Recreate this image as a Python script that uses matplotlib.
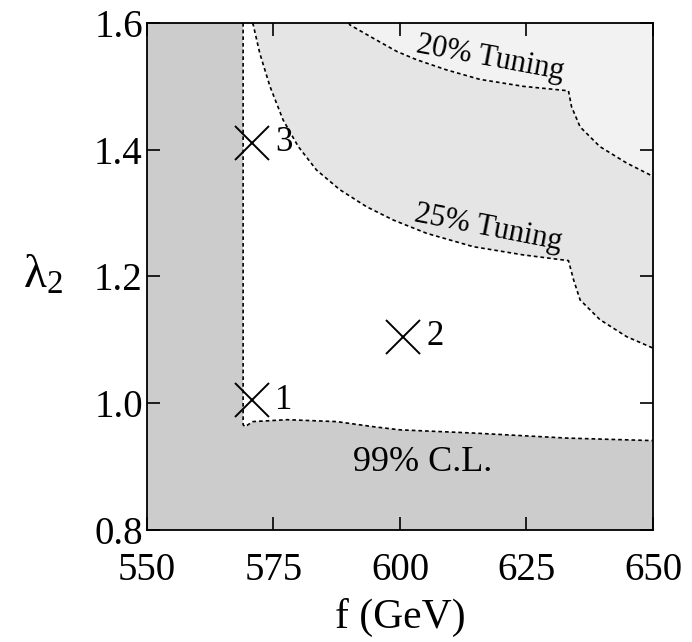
import numpy as np
import matplotlib
matplotlib.use("Agg")
import matplotlib.pyplot as plt

# Limites del grafico
f_min, f_max = 550, 650
l_min, l_max = 0.8, 1.6

# Frontera del 99% C.L. (linea vertical + curva inferior)
cl_f = [569.0, 569.0, 569.4, 570.9, 577.7, 587.5, 594.7, 600.0, 614.4, 633.0, 650.0]
cl_l = [1.600, 0.966, 0.963, 0.971, 0.974, 0.971, 0.963, 0.958, 0.953, 0.945, 0.941]

# Curva de 25% de ajuste fino
t25_f = [570.85, 571.0, 572.3, 574.3, 576.9, 579.9, 583.5, 588.1, 593.4, 598.7,
         605.3, 614.5, 624.4, 633.3, 634.3, 635.6, 639.5, 644.8, 650.0]
t25_l = [1.600, 1.597, 1.552, 1.500, 1.447, 1.405, 1.368, 1.337, 1.310, 1.289,
         1.268, 1.247, 1.234, 1.225, 1.195, 1.163, 1.132, 1.105, 1.087]

# Curva de 20% de ajuste fino
t20_f = [589.9, 590.1, 594.7, 599.4, 603.3, 609.2, 615.8, 624.4, 633.3, 633.9,
         635.6, 639.5, 644.8, 650.0]
t20_l = [1.600, 1.597, 1.576, 1.555, 1.542, 1.526, 1.511, 1.500, 1.493, 1.468,
         1.436, 1.405, 1.379, 1.358]

# Puntos de referencia
pt_f = [570.7, 600.6, 570.7]
pt_l = [1.005, 1.105, 1.411]
pt_names = ["1", "2", "3"]

plt.rcParams['font.family'] = ['Liberation Serif', 'DejaVu Serif']
plt.rcParams['mathtext.fontset'] = 'custom'
plt.rcParams['mathtext.rm'] = 'Liberation Serif'

fig = plt.figure(figsize=(6.92, 6.42), dpi=100)
ax = fig.add_axes([0.2124, 0.1745, 0.7312, 0.7897])

dash = (0, (2.2, 1.8))

# Regiones sombreadas (debajo de las marcas de los ejes)
ax.fill_between(t25_f, t25_l, l_max, color='#e5e5e5', lw=0, zorder=0.5)
ax.fill_between(t20_f, t20_l, l_max, color='#f2f2f2', lw=0, zorder=0.6)

excl_f = [f_min] + cl_f + [f_max, f_min]
excl_l = [l_max] + cl_l + [l_min, l_min]
ax.fill(excl_f, excl_l, color='#cccccc', lw=0, zorder=0.7)

# Fronteras punteadas
ax.plot(cl_f, cl_l, color='k', lw=1.2, ls=dash, zorder=1)
ax.plot(t25_f, t25_l, color='k', lw=1.2, ls=dash, zorder=1)
ax.plot(t20_f, t20_l, color='k', lw=1.2, ls=dash, zorder=1)

# Puntos marcados con X
ax.plot(pt_f, pt_l, ls='none', marker='x', ms=25, mew=1.4, color='k', zorder=5)
for x, y, name in zip(pt_f, pt_l, pt_names):
    ax.annotate(name, (x, y), xytext=(23, 0), textcoords='offset points',
                ha='center', va='center', fontsize=25, zorder=6)

# Etiquetas internas
ax.text(617.8, 1.544, "20% Tuning", fontsize=22, rotation=-10.5,
        ha='center', va='center', rotation_mode='anchor', zorder=6)
ax.text(617.4, 1.277, "25% Tuning", fontsize=22, rotation=-11,
        ha='center', va='center', rotation_mode='anchor', zorder=6)
ax.text(604.5, 0.906, "99% C.L.", fontsize=26, ha='center', va='center', zorder=6)

# Ejes
ax.set_xlim(f_min, f_max)
ax.set_ylim(l_min, l_max)
ax.set_xticks([550, 575, 600, 625, 650])
ax.set_yticks([0.8, 1.0, 1.2, 1.4, 1.6])
ax.set_yticklabels(["0.8", "1.0", "1.2", "1.4", "1.6"])
ax.tick_params(direction='in', length=9.5, width=1.2, top=True, right=True,
               labelsize=28)
ax.tick_params(axis='x', pad=16)
ax.tick_params(axis='y', pad=3)
for s in ax.spines.values():
    s.set_linewidth(1.3)
    s.set_zorder(10)

ax.set_xlabel("f (GeV)", fontsize=30, labelpad=6)
ax.set_ylabel(r"$\mathrm{\lambda_2}$", fontsize=34, rotation=0, ha='center', va='center')
ax.yaxis.set_label_coords(-0.205, 0.5)

fig.savefig("out.png", dpi=100)
